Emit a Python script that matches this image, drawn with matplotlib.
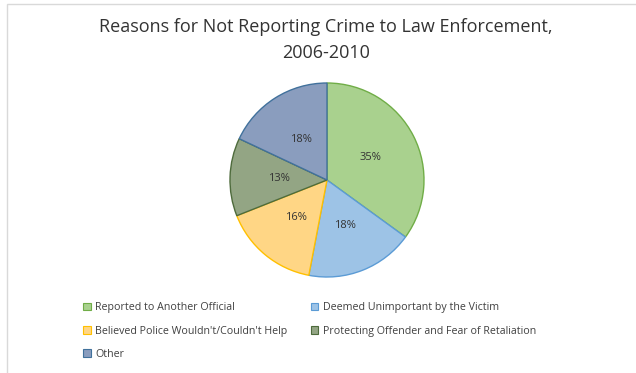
import matplotlib
matplotlib.use("Agg")
import matplotlib.pyplot as plt
from matplotlib.patches import Patch, Rectangle

categories = ["Reported to Another Official", "Deemed Unimportant by the Victim",
              "Believed Police Wouldn't/Couldn't Help", "Protecting Offender and Fear of Retaliation",
              "Other"]
values = [35, 18, 16, 13, 18]
labels = ["35%", "18%", "16%", "13%", "18%"]
colors = ["#A9D18E", "#9DC3E6", "#FFD685", "#93A584", "#8A9DBE"]
edges = ["#70AD47", "#5B9BD5", "#FFC000", "#4E6B3C", "#41719C"]
title = "Reasons for Not Reporting Crime to Law Enforcement,\n2006-2010"

plt.rcParams['font.family'] = ['Open Sans', 'DejaVu Sans']

W, H = 636, 373
fig = plt.figure(figsize=(W/100, H/100), dpi=100)
fig.patch.set_facecolor("white")

# chart border
fig.add_artist(Rectangle((7/W, -0.01), 1.0, (H-4)/H + 0.01, transform=fig.transFigure,
                         fill=False, edgecolor="#D9D9D9", linewidth=1.0))

fig.text(326/W, 1 - 40/H, title, ha="center", va="center", fontsize=13,
         color="#333333", linespacing=1.55)

r = 97
cx, cy = 327, 180
ax = fig.add_axes([(cx - r)/W, 1 - (cy + r)/H, 2*r/W, 2*r/H])
wedges, texts = ax.pie(values, labels=labels, colors=colors, startangle=90, counterclock=False,
                       labeldistance=0.5, radius=1.0,
                       wedgeprops=dict(linewidth=1.0),
                       textprops=dict(fontsize=8, color="#333333"))
for w, e in zip(wedges, edges):
    w.set_edgecolor(e)
for t in texts:
    t.set_ha("center"); t.set_va("center")
ax.set_xlim(-1.0, 1.0); ax.set_ylim(-1.0, 1.0)
ax.set_aspect("equal")
ax.axis("off")

handles = [Patch(facecolor=c, edgecolor=e, linewidth=0.8) for c, e in zip(colors, edges)]
order = [0, 2, 4, 1, 3]
leg = fig.legend([handles[i] for i in order], [categories[i] for i in order], ncol=2,
                 loc="upper left", bbox_to_anchor=(78/W, 1 - 297/H), frameon=False,
                 fontsize=7.7, labelcolor="#404040", handlelength=0.7, handleheight=0.7,
                 handletextpad=0.4, columnspacing=2.2, labelspacing=1.15, borderpad=0)

fig.savefig("out.png", dpi=100)
